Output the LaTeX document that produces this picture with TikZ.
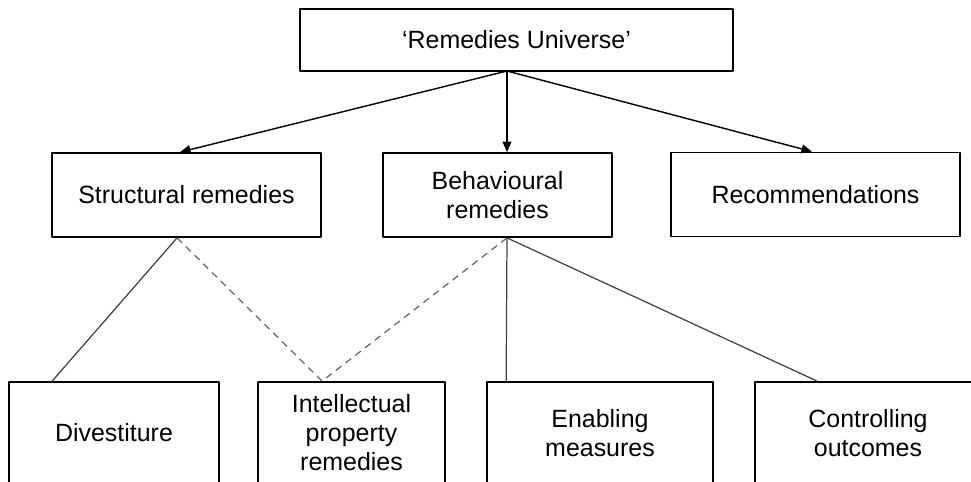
\documentclass[tikz,border=0pt]{standalone}
\usepackage{fontspec}
\setmainfont{Liberation Sans}
\usetikzlibrary{arrows.meta}
\tikzset{box/.style={draw,line width=1pt,align=center,inner sep=0pt,minimum height=1.68cm},
	lowbox/.style={box,minimum height=2.04cm},
	link/.style={line width=0.7pt,draw=black!75},
	dlink/.style={link,draw=black!60,dash pattern=on 4pt off 3pt}}
\begin{document}
\begin{tikzpicture}[x=0.02cm,y=-0.02cm,font=\fontsize{14.2}{16.5}\selectfont,line join=round,>={Triangle[length=6pt,width=5pt]}]
	\useasboundingbox (0,0) rectangle (971,482);
	\node[box,minimum width=8.66cm,minimum height=1.24cm] (univ) at (516.5,40) {`Remedies Universe'};
	\node[box,minimum width=5.38cm] (struct) at (186.5,195) {Structural remedies};
	\node[box,minimum width=4.58cm] (behav) at (497.5,195) {Behavioural\\remedies};
	\node[box,minimum width=5.78cm] (recom) at (815.5,194.5) {Recommendations};
	\node[lowbox,minimum width=4.2cm] (divest) at (114,433) {Divestiture};
	\node[lowbox,minimum width=3.74cm] (iprop) at (351.5,433) {Intellectual\\property\\remedies};
	\node[lowbox,minimum width=4.52cm] (enabl) at (600,433) {Enabling\\measures};
	\node[lowbox,minimum width=4.52cm] (contr) at (868,433) {Controlling\\outcomes};
	\coordinate (hub) at (507,71);
	\draw[->,line width=0.8pt] (hub)--([xshift=-0.13cm]struct.north);
	\draw[->,line width=0.8pt] (hub)--(hub |- behav.north);
	\draw[->,line width=0.8pt] (hub)--([xshift=-0.07cm]recom.north);
	\draw[link] ([xshift=-0.19cm]struct.south)--([xshift=0.88cm]divest.north west);
	\draw[dlink] ([xshift=-0.19cm]struct.south)--([xshift=1.3cm]iprop.north west)--(hub |- behav.south);
	\foreach \x/\s in {enabl/0.4cm,contr/1.26cm}
	\draw[link] (hub |- behav.south)--([xshift=\s]\x.north west);
\end{tikzpicture}
\end{document}
